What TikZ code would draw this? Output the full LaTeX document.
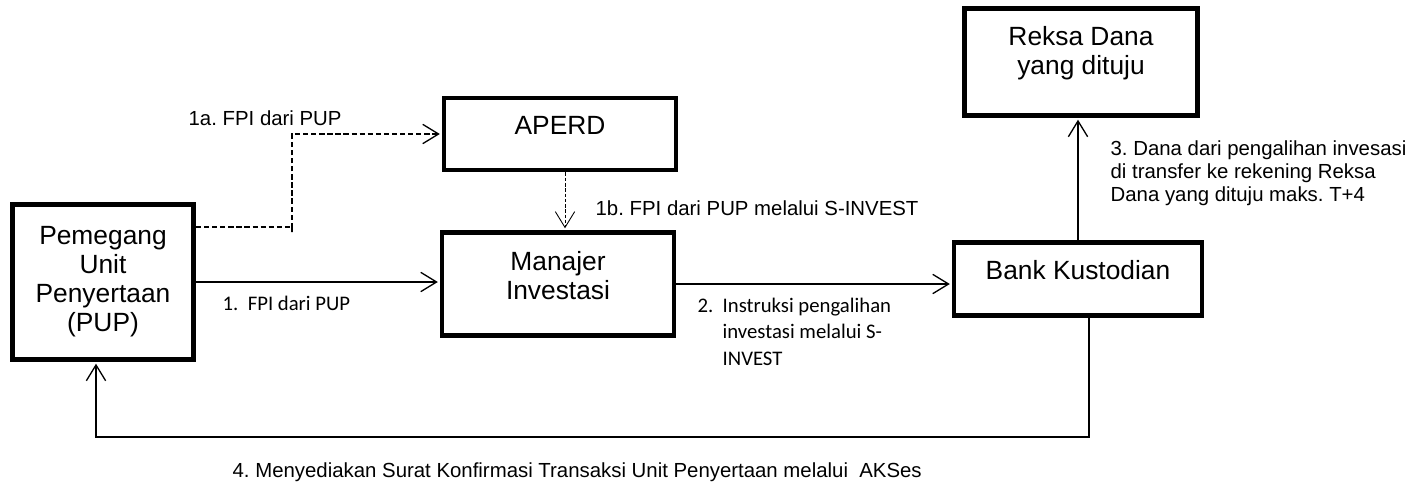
\documentclass[tikz,border=0pt]{standalone}
\usepackage{fontspec}
\setmainfont{Liberation Sans}
\newfontfamily\calibri{Carlito}
\usetikzlibrary{arrows.meta}
\frenchspacing

\begin{document}
\begin{tikzpicture}[x=0.02cm,y=-0.02cm,shorten >=1pt,line width=0.75pt,
  >={Straight Barb[length=9pt,width=11pt]},
  box/.style={draw,line width=2.8pt,align=center,inner sep=0pt,font=\fontsize{15}{16.5}\selectfont},
  lbl/.style={inner sep=0pt,font=\fontsize{11.6}{13.2}\selectfont},
  cal/.style={inner sep=0pt,font=\calibri\fontsize{11.8}{15.2}\selectfont},
  dashline/.style={dash pattern=on 3pt off 1.6pt},
  dotline/.style={line width=0.5pt,dash pattern=on 2pt off 1pt}]
\useasboundingbox (0,0) rectangle (1421,484);
\node[box,minimum width=3.62cm,minimum height=3.1cm] (pup) at (103,282) {Pemegang\\Unit\\Penyertaan\\(PUP)};
\node[box,minimum width=4.64cm,minimum height=1.44cm,text depth=10pt] (aperd) at (560,134) {APERD};
\node[box,minimum width=4.64cm,minimum height=2.06cm,text depth=10pt] (mi) at (558,284) {Manajer\\Investasi};
\node[box,minimum width=4.96cm,minimum height=1.46cm,text depth=10pt] (bank) at (1078,279) {Bank Kustodian};
\node[box,minimum width=4.66cm,minimum height=2.14cm,text depth=13pt] (reksa) at (1081,62) {Reksa Dana\\yang dituju};
\coordinate (bend) at (292,227);
\coordinate (low) at (96,437);
\node[lbl,anchor=base west] (l1a) at (188,125) {1a. FPI dari PUP};
\node[lbl,anchor=base west] (l1b) at (595,215) {1b. FPI dari PUP melalui S-INVEST};
\node[cal,anchor=base west] (l1) at (222,310) {1.\ \ FPI dari PUP};
\node[cal,anchor=north west,align=left] (l2) at (697,297) {\makebox[0.5cm][l]{2.}Instruksi pengalihan\\\hspace*{0.5cm}investasi melalui S-\\\hspace*{0.5cm}INVEST};
\node[lbl,anchor=north west,align=left] (l3) at (1110,140) {3. Dana dari pengalihan invesasi\\di transfer ke rekening Reksa\\Dana yang dituju maks. T+4};
\node[lbl,anchor=base west] (l4) at (232,477) {4. Menyediakan Surat Konfirmasi Transaksi Unit Penyertaan melalui\ \ AKSes};
\draw[dashline,->] (pup.east |- bend) -| ([yshift=-0.1cm]bend) |- (aperd.west);
\draw[dotline,->] ([xshift=0.1cm]aperd.south) -- ([xshift=0.1cm]aperd.south |- mi.north);
\draw[->] (pup.east) -- (pup.east -| mi.west);
\draw[->] (mi.east) -- (mi.east -| bank.west);
\draw[->] (bank.north) -- (bank.north |- reksa.south);
\draw[->] ([xshift=0.22cm]bank.south) |- (low) -- (pup.south -| low);
\end{tikzpicture}
\end{document}
